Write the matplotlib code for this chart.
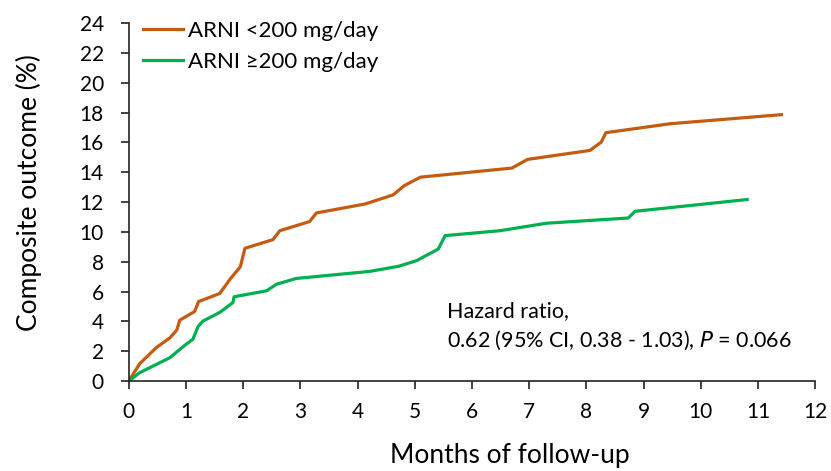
import matplotlib
matplotlib.use('Agg')
import matplotlib.pyplot as plt

# cumulative incidence
months_low = [0, 0.19, 0.48, 0.72, 0.84, 0.89, 1.15, 1.22, 1.59, 1.77, 1.95, 2.03,
              2.52, 2.64, 3.16, 3.28, 4.13, 4.62, 4.82, 5.10, 6.70, 6.97, 8.06,
              8.26, 8.34, 9.46, 11.41]
rate_low = [0, 1.16, 2.24, 2.9, 3.43, 4.08, 4.66, 5.33, 5.87, 6.83, 7.66, 8.9,
            9.48, 10.08, 10.69, 11.27, 11.87, 12.48, 13.11, 13.67, 14.28, 14.86,
            15.46, 16.02, 16.65, 17.25, 17.86]

months_high = [0, 0.19, 0.72, 0.98, 1.12, 1.21, 1.30, 1.59, 1.82, 1.84, 2.41, 2.58,
               2.93, 4.21, 4.71, 5.03, 5.41, 5.53, 6.49, 7.30, 8.73, 8.85, 10.81]
rate_high = [0, 0.56, 1.57, 2.4, 2.8, 3.65, 4.03, 4.6, 5.26, 5.65, 6.05, 6.49,
             6.88, 7.35, 7.69, 8.07, 8.85, 9.75, 10.08, 10.58, 10.93, 11.38, 12.17]

x_ticks = list(range(0, 13))
y_ticks = list(range(0, 25, 2))

plt.rcParams['font.family'] = ['Lato', 'DejaVu Sans']

fig = plt.figure(figsize=(8.31, 4.71), dpi=100)
ax = fig.add_axes([0.155, 0.191, 0.826, 0.760])

ax.plot(months_low, rate_low, color='#C55A11', lw=2.3, label='ARNI <200 mg/day')
ax.plot(months_high, rate_high, color='#00B050', lw=2.3, label='ARNI ≥200 mg/day')

ax.set_xlim(0, 12)
ax.set_ylim(0, 24)
ax.set_xticks(x_ticks)
ax.set_yticks(y_ticks)
ax.tick_params(labelsize=15, length=6, width=1.2, color='#222222')
ax.tick_params(axis='y', pad=12)
ax.tick_params(axis='x', pad=9)
for s in ['top', 'right']:
    ax.spines[s].set_visible(False)
for s in ['left', 'bottom']:
    ax.spines[s].set_linewidth(1.2)
    ax.spines[s].set_color('#222222')

ax.set_xlabel('Months of follow-up', fontsize=19)
ax.set_ylabel('Composite outcome (%)', fontsize=19)
# labels sit a little off-centre in the original
ax.xaxis.set_label_coords(0.555, -0.172)
ax.yaxis.set_label_coords(-0.127, 0.527)

ax.legend(loc='upper left', bbox_to_anchor=(0.0204, 1.006), frameon=False, fontsize=16,
          handlelength=1.8, handletextpad=0.25, labelspacing=0.5,
          borderaxespad=0, borderpad=0)

ax.text(0.463, 0.224, 'Hazard ratio,\n0.62 (95% CI, 0.38 - 1.03), $\\it{P}$ = 0.066',
        transform=ax.transAxes, fontsize=15.5, linespacing=1.45, va='top')

fig.savefig('out.png', dpi=100)
